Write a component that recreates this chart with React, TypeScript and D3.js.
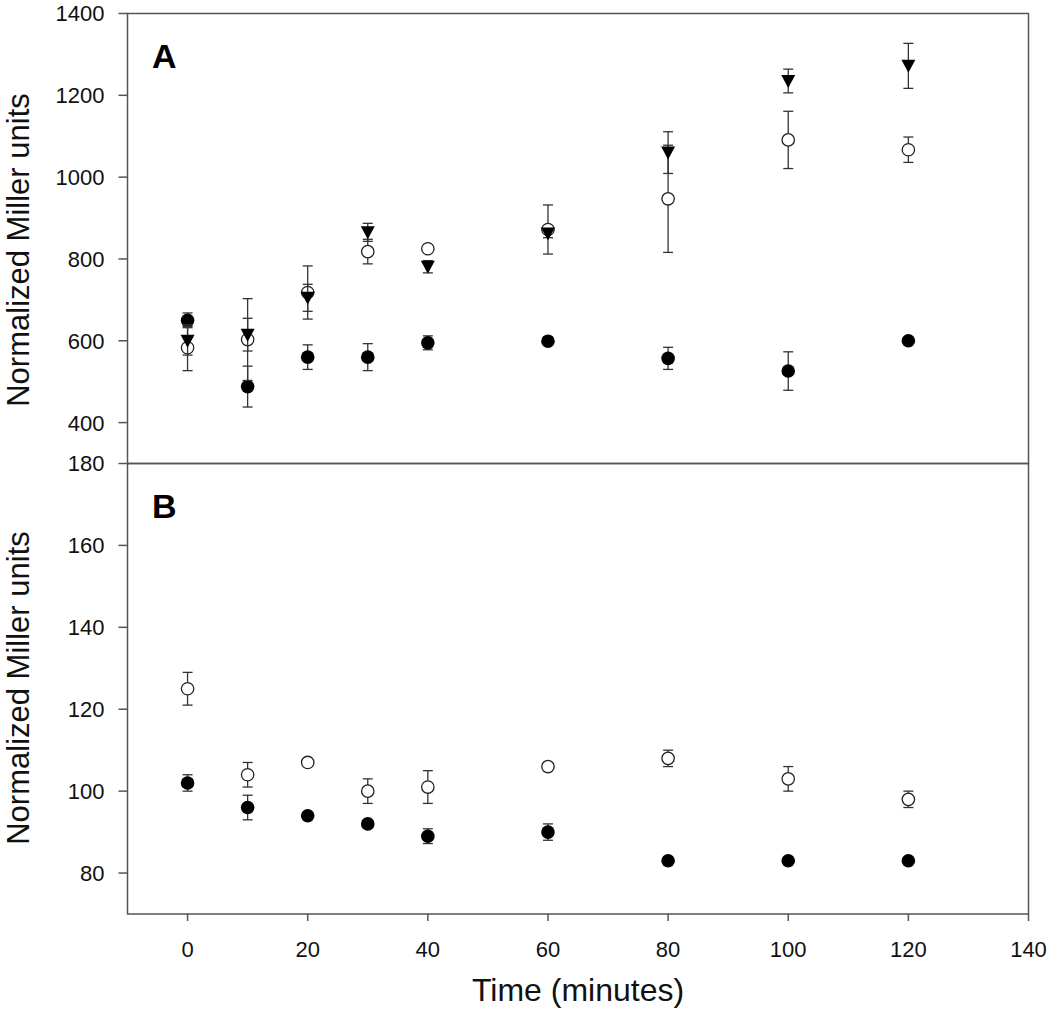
import React from "react";
import * as d3 from "d3";

// ---- data ----
const times = [0, 10, 20, 30, 40, 60, 80, 100, 120];

// Panel A
const aFilledMean = [650, 488, 560, 560, 595, 599, 557, 526, 600];
const aFilledErr = [18, 50, 30, 33, 17, 8, 27, 47, 5];
const aOpenMean = [583, 603, 718, 818, 825, 872, 947, 1091, 1067];
const aOpenErr = [56, 100, 65, 30, 5, 60, 131, 70, 31];
const aTriMean = [600, 615, 705, 865, 781, 862, 1060, 1235, 1272];
const aTriErr = [35, 40, 33, 22, 15, 10, 51, 29, 55];

// Panel B
const bFilledMean = [102, 96, 94, 92, 89, 90, 83, 83, 83];
const bFilledErr = [2, 3, 0.5, 0.5, 1.8, 2, 0.5, 0.5, 0.5];
const bOpenMean = [125, 104, 107, 100, 101, 106, 108, 103, 98];
const bOpenErr = [4, 3, 0.5, 3, 4, 0.5, 2, 3, 2];

const xTicks = [0, 20, 40, 60, 80, 100, 120, 140];
const aTicks = [400, 600, 800, 1000, 1200, 1400];
const bTicks = [80, 100, 120, 140, 160, 180];

const FONT = "'Liberation Sans', Arial, Helvetica, sans-serif";
const AXIS = "#555";
const BAR = "#333";

const W = 1050;
const H = 1018;
const left = 127.5;
const right = 1028.5;
const aTop = 13.5;
const mid = 463.5;
const bBottom = 914;

type S = { mean: number[]; err: number[]; kind: "filled" | "open" | "tri" };

function Series({ s, x, y }: { s: S; x: d3.ScaleLinear<number, number>; y: d3.ScaleLinear<number, number> }) {
  return (
    <g>
      {times.map((t, i) => {
        const cx = x(t);
        const y1 = y(s.mean[i] + s.err[i]);
        const y2 = y(s.mean[i] - s.err[i]);
        return (
          <g key={"e" + i} stroke={BAR} strokeWidth={1.3}>
            <line x1={cx} x2={cx} y1={y1} y2={y2} />
            <line x1={cx - 5} x2={cx + 5} y1={y1} y2={y1} />
            <line x1={cx - 5} x2={cx + 5} y1={y2} y2={y2} />
          </g>
        );
      })}
      {times.map((t, i) => {
        const cx = x(t);
        const cy = y(s.mean[i]);
        if (s.kind === "filled") return <circle key={i} cx={cx} cy={cy} r={6.8} fill="#000" />;
        if (s.kind === "open")
          return <circle key={i} cx={cx} cy={cy} r={6.2} fill="#fff" stroke="#222" strokeWidth={1.3} />;
        const p = `M${cx - 7},${cy - 6}L${cx + 7},${cy - 6}L${cx},${cy + 7}Z`;
        return <path key={i} d={p} fill="#000" />;
      })}
    </g>
  );
}

export default function App() {
  const x = d3.scaleLinear().domain([-10, 140]).range([left, right]);
  const yA = d3.scaleLinear().domain([300, 1400]).range([mid, aTop]);
  const yB = d3.scaleLinear().domain([70, 180]).range([bBottom, mid]);

  return (
    <svg
      width={W}
      height={H}
      style={{ position: "absolute", left: 0, top: 0, display: "block", background: "#fff" }}
      fontFamily={FONT}
    >
      <rect x={0} y={0} width={W} height={H} fill="#fff" />
      {/* frames */}
      <rect x={left} y={aTop} width={right - left} height={mid - aTop} fill="none" stroke={AXIS} strokeWidth={1.5} />
      <rect x={left} y={mid} width={right - left} height={bBottom - mid} fill="none" stroke={AXIS} strokeWidth={1.5} />

      {/* y ticks A */}
      {aTicks.map((v) => (
        <g key={"a" + v}>
          <line x1={left - 9} x2={left} y1={yA(v)} y2={yA(v)} stroke={AXIS} strokeWidth={1.5} />
          <text x={left - 23} y={yA(v)} dy="0.36em" textAnchor="end" fontSize={22} fill="#111">
            {v}
          </text>
        </g>
      ))}
      {/* y ticks B */}
      {bTicks.map((v) => (
        <g key={"b" + v}>
          <line x1={left - 9} x2={left} y1={yB(v)} y2={yB(v)} stroke={AXIS} strokeWidth={1.5} />
          <text x={left - 23} y={yB(v)} dy="0.36em" textAnchor="end" fontSize={22} fill="#111">
            {v}
          </text>
        </g>
      ))}
      {/* x ticks */}
      {xTicks.map((v) => (
        <g key={"x" + v}>
          <line x1={x(v)} x2={x(v)} y1={bBottom} y2={bBottom + 7} stroke={AXIS} strokeWidth={1.5} />
          <text x={x(v)} y={957} textAnchor="middle" fontSize={22} fill="#111">
            {v}
          </text>
        </g>
      ))}

      {/* axis titles */}
      <text transform={`translate(29,250) rotate(-90)`} textAnchor="middle" fontSize={31} fill="#111">
        Normalized Miller units
      </text>
      <text transform={`translate(29,688) rotate(-90)`} textAnchor="middle" fontSize={31} fill="#111">
        Normalized Miller units
      </text>
      <text x={(left + right) / 2} y={1001} textAnchor="middle" fontSize={32} fill="#111">
        Time (minutes)
      </text>

      {/* panel labels */}
      <text x={152} y={68} fontSize={34} fontWeight="bold" fill="#000">A</text>
      <text x={152} y={518} fontSize={34} fontWeight="bold" fill="#000">B</text>

      {/* panel A */}
      <Series s={{ mean: aFilledMean, err: aFilledErr, kind: "filled" }} x={x} y={yA} />
      <Series s={{ mean: aOpenMean, err: aOpenErr, kind: "open" }} x={x} y={yA} />
      <Series s={{ mean: aTriMean, err: aTriErr, kind: "tri" }} x={x} y={yA} />

      {/* panel B */}
      <Series s={{ mean: bFilledMean, err: bFilledErr, kind: "filled" }} x={x} y={yB} />
      <Series s={{ mean: bOpenMean, err: bOpenErr, kind: "open" }} x={x} y={yB} />
    </svg>
  );
}
